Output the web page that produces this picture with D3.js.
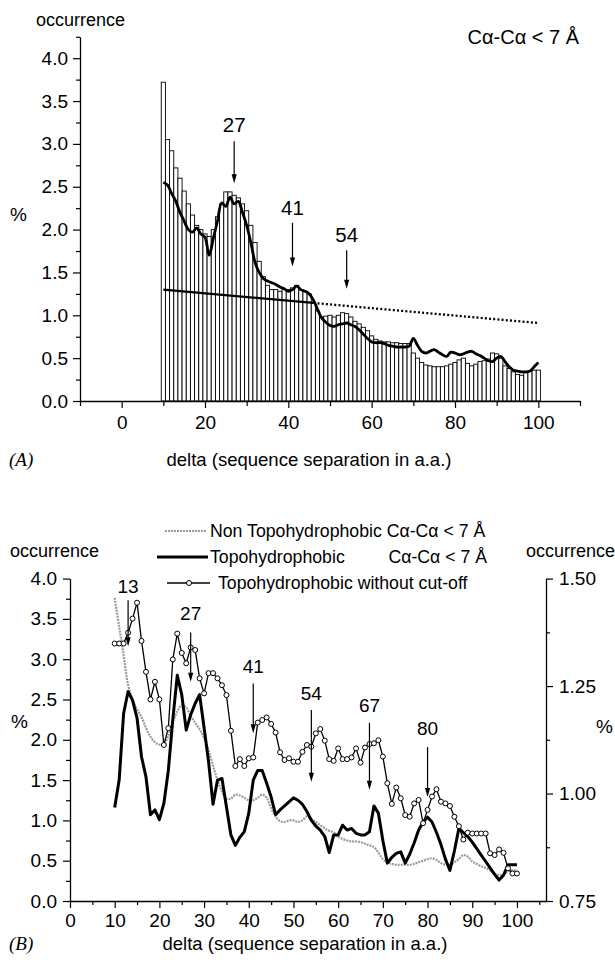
<!DOCTYPE html>
<html><head><meta charset="utf-8">
<script src="https://cdn.jsdelivr.net/npm/d3@7"></script>
<style>
body{margin:0;background:#fff;}
svg{display:block;font-family:"Liberation Sans",Arial,Helvetica,sans-serif;}
</style></head><body>
<svg id="c" width="615" height="966"></svg>
<script>
// ================= DATA =================
// Panel A : occurrence (%) of Calpha-Calpha contacts < 7 A vs sequence separation
const aDelta = d3.range(10, 101);
const aBars = [3.72,3.05,2.92,2.72,2.60,2.45,2.30,2.17,2.05,2.00,
  1.95,1.92,2.00,2.15,2.30,2.44,2.44,2.40,2.37,2.30,
  2.22,2.05,1.85,1.63,1.45,1.35,1.30,1.30,1.28,1.30,
  1.30,1.32,1.35,1.30,1.28,1.25,1.15,1.05,0.98,0.99,
  1.00,0.98,1.00,1.03,1.02,0.98,0.93,0.90,0.86,0.82,
  0.76,0.72,0.70,0.69,0.69,0.68,0.68,0.67,0.67,0.67,
  0.56,0.50,0.45,0.42,0.41,0.40,0.40,0.40,0.41,0.43,
  0.45,0.48,0.50,0.44,0.41,0.43,0.46,0.47,0.49,0.56,
  0.55,0.50,0.41,0.38,0.34,0.31,0.30,0.33,0.35,0.36,0.36];
const aSmooth = [2.55,2.52,2.42,2.33,2.20,2.10,2.00,1.97,2.02,1.95,
  1.91,1.70,1.90,2.10,2.31,2.27,2.38,2.30,2.33,2.20,
  2.05,1.85,1.62,1.50,1.43,1.40,1.38,1.36,1.33,1.31,
  1.28,1.30,1.34,1.30,1.28,1.25,1.18,1.07,0.97,0.92,
  0.88,0.87,0.89,0.90,0.91,0.89,0.87,0.83,0.78,0.73,
  0.69,0.68,0.68,0.67,0.65,0.64,0.63,0.63,0.63,0.64,
  0.73,0.65,0.58,0.56,0.58,0.60,0.57,0.54,0.52,0.57,
  0.56,0.54,0.55,0.57,0.58,0.55,0.53,0.50,0.47,0.46,
  0.50,0.52,0.46,0.40,0.36,0.35,0.34,0.34,0.35,0.40,0.45];
const aTrendX = [10, 46, 100];          // fit line: solid up to 46, dotted after
const aTrendY = [1.30, 1.144, 0.91];
const aPeakX = [27, 41, 54];
const aArrowTop = [3.03, 2.08, 1.76];
const aArrowBot = [2.54, 1.57, 1.31];
const aLabelY = [3.14, 2.17, 1.86];
const aXTicks = [0, 20, 40, 60, 80, 100];
const aXMinor = [-10, 10, 30, 50, 70, 90, 110];
const aYTicks = [0, 0.5, 1, 1.5, 2, 2.5, 3, 3.5, 4];
const aYMinor = [0.25, 0.75, 1.25, 1.75, 2.25, 2.75, 3.25, 3.75, 4.25];

// Panel B
const bDelta = d3.range(10, 101);
const bNonTopo = [3.76,3.40,3.05,2.68,2.50,2.38,2.28,2.15,2.04,1.97,
  1.94,1.95,2.05,2.22,2.35,2.43,2.40,2.30,2.21,2.13,
  2.02,1.87,1.68,1.50,1.36,1.27,1.27,1.32,1.31,1.28,
  1.25,1.25,1.28,1.32,1.28,1.15,1.05,0.99,0.98,1.00,
  1.00,0.98,1.00,1.05,1.02,0.98,0.94,0.90,0.87,0.85,
  0.80,0.77,0.75,0.74,0.74,0.73,0.71,0.69,0.67,0.60,
  0.52,0.48,0.46,0.45,0.45,0.45,0.45,0.46,0.48,0.50,
  0.52,0.53,0.51,0.47,0.45,0.45,0.48,0.52,0.57,0.55,
  0.49,0.46,0.43,0.41,0.38,0.34,0.32,0.33,0.37,0.38,0.38];
const bTopo = [1.16,1.50,2.33,2.60,2.49,2.27,1.79,1.54,1.07,1.13,
  1.01,1.21,1.62,2.25,2.80,2.56,2.12,2.31,2.45,2.56,
  2.15,1.73,1.20,1.50,1.52,1.17,0.82,0.69,0.79,0.86,
  1.09,1.50,1.62,1.62,1.46,1.29,1.07,1.13,1.18,1.23,
  1.28,1.25,1.20,1.11,1.00,0.93,0.88,0.80,0.60,0.82,
  0.82,0.94,0.88,0.90,0.84,0.82,0.82,0.86,1.18,1.09,
  0.75,0.47,0.54,0.59,0.61,0.47,0.58,0.72,0.88,0.98,
  1.04,0.98,0.85,0.70,0.52,0.38,0.62,0.90,0.85,0.80,
  0.73,0.65,0.57,0.49,0.41,0.33,0.26,0.32,0.45,0.45,0.45];
// right axis (%) : topohydrophobic without cut-off
const bNoCut = [1.349,1.349,1.349,1.374,1.407,1.444,1.355,1.283,1.219,1.260,
  1.219,1.113,1.152,1.312,1.372,1.327,1.303,1.340,1.334,1.268,
  1.233,1.280,1.280,1.268,1.252,1.229,1.146,1.064,1.080,1.064,
  1.082,1.084,1.165,1.171,1.177,1.162,1.142,1.096,1.078,1.082,
  1.074,1.074,1.097,1.113,1.109,1.140,1.150,1.123,1.080,1.076,
  1.105,1.080,1.080,1.084,1.105,1.072,1.107,1.115,1.117,1.124,
  1.086,1.024,0.976,1.014,0.989,0.950,0.946,0.977,0.985,0.931,
  0.962,0.993,1.010,0.981,0.977,0.971,0.946,0.924,0.893,0.909,
  0.907,0.907,0.907,0.907,0.861,0.857,0.870,0.862,0.826,0.814,0.814];
const bPeakX = [13, 27, 41, 54, 67, 80];
const bArrowTop = [3.73, 3.33, 2.70, 2.37, 2.21, 1.91];
const bArrowBot = [3.16, 2.72, 2.08, 1.48, 1.38, 1.29];
const bLabelY = [3.82, 3.49, 2.83, 2.49, 2.34, 2.06];
const bXTicks = [0,10,20,30,40,50,60,70,80,90,100];
const bXMinor = [5,15,25,35,45,55,65,75,85,95,105];
const bYTicks = [0,0.5,1,1.5,2,2.5,3,3.5,4];
const bYMinor = [0.25,0.75,1.25,1.75,2.25,2.75,3.25,3.75];
const bRTicks = [0.75,1.00,1.25,1.50];
const bRMinor = [0.875,1.125,1.375];
const legendLabels = ["Non Topohydrophobic C\u03b1-C\u03b1 < 7 \u00c5",
                      "Topohydrophobic", "Topohydrophobic without cut-off"];
const legendExtra = "C\u03b1-C\u03b1 < 7 \u00c5";

// ================= DRAW =================
const svg = d3.select("#c");
const tickFont = 19;

function styleAxis(g){
  g.selectAll("path.domain").attr("stroke","#000").attr("stroke-width",1.3);
  g.selectAll(".tick line").attr("stroke","#000").attr("stroke-width",1.2);
  g.selectAll("text").attr("fill","#000").attr("font-size",tickFont)
    .attr("font-family","Liberation Sans, Arial, sans-serif");
}
function arrow(g, x, y1, y2){
  g.append("line").attr("x1",x).attr("x2",x).attr("y1",y1).attr("y2",y2-7)
    .attr("stroke","#000").attr("stroke-width",1.2);
  g.append("path").attr("d",`M${x-2.6},${y2-9}L${x+2.6},${y2-9}L${x},${y2}Z`).attr("fill","#000");
}

// ---------- Panel A ----------
const xA = d3.scaleLinear().domain([-10,110]).range([80,580]);
const yA = d3.scaleLinear().domain([0,4.25]).range([401, 401-4.25*85.7]);
const gA = svg.append("g");
const bw = xA(1)-xA(0);

gA.append("g").selectAll("rect").data(aBars).join("rect")
  .attr("x",(d,i)=>xA(aDelta[i]-0.5)).attr("width",bw)
  .attr("y",d=>yA(d)).attr("height",d=>yA(0)-yA(d))
  .attr("fill","#fff").attr("stroke","#000").attr("stroke-width",0.9);

// fit line
gA.append("line").attr("x1",xA(aTrendX[0])).attr("y1",yA(aTrendY[0]))
  .attr("x2",xA(aTrendX[1])).attr("y2",yA(aTrendY[1]))
  .attr("stroke","#000").attr("stroke-width",2.3);
gA.append("line").attr("x1",xA(aTrendX[1])).attr("y1",yA(aTrendY[1]))
  .attr("x2",xA(aTrendX[2])).attr("y2",yA(aTrendY[2]))
  .attr("stroke","#000").attr("stroke-width",2.3).attr("stroke-dasharray","2,2.2");

gA.append("path").datum(aSmooth)
  .attr("d", d3.line().x((d,i)=>xA(aDelta[i])).y(d=>yA(d)).curve(d3.curveCatmullRom))
  .attr("fill","none").attr("stroke","#000").attr("stroke-width",2.8).attr("stroke-linejoin","round");

// axes A
const axAx = gA.append("g").attr("transform",`translate(0,${yA(0)})`)
  .call(d3.axisBottom(xA).tickValues(aXTicks).tickSize(7).tickSizeOuter(0).tickPadding(8).tickFormat(d3.format("d")));
styleAxis(axAx);
const axAxm = gA.append("g").attr("transform",`translate(0,${yA(0)})`)
  .call(d3.axisBottom(xA).tickValues(aXMinor).tickSize(5).tickFormat(""));
axAxm.select("path.domain").remove(); styleAxis(axAxm);
const axAy = gA.append("g").attr("transform",`translate(${xA(-10)},0)`)
  .call(d3.axisLeft(yA).tickValues(aYTicks).tickSize(7).tickSizeOuter(0).tickPadding(5).tickFormat(d3.format(".1f")));
styleAxis(axAy);
const axAym = gA.append("g").attr("transform",`translate(${xA(-10)},0)`)
  .call(d3.axisLeft(yA).tickValues(aYMinor).tickSize(4).tickFormat(""));
axAym.select("path.domain").remove(); styleAxis(axAym);

// peak arrows A
aPeakX.forEach((p,i)=>{
  arrow(gA, xA(p), yA(aArrowTop[i]), yA(aArrowBot[i]));
  gA.append("text").attr("x",xA(p)).attr("y",yA(aLabelY[i])).attr("text-anchor","middle")
    .attr("font-size",20.5).text(p);
});

gA.append("text").attr("x",36).attr("y",26).attr("font-size",18).text("occurrence");
gA.append("text").attr("x",10).attr("y",221).attr("font-size",19).text("%");
gA.append("text").attr("x",579).attr("y",44).attr("text-anchor","end").attr("font-size",20).text(legendExtra);
gA.append("text").attr("x",309).attr("y",466).attr("text-anchor","middle")
  .attr("font-size",18.5).text("delta (sequence separation in a.a.)");
gA.append("text").attr("x",9).attr("y",466).attr("font-size",19)
  .attr("font-family","Liberation Serif, Times New Roman, serif").attr("font-style","italic").text("(A)");

// ---------- Panel B ----------
const xB = d3.scaleLinear().domain([0,106.5]).range([70,546]);
const yB = d3.scaleLinear().domain([0,4]).range([901, 901-4*80.6]);
const yR = d3.scaleLinear().domain([0.75,1.5]).range([901, 901-4*80.6]);
const gB = svg.append("g");

// axes B
const axBx = gB.append("g").attr("transform",`translate(0,${yB(0)})`)
  .call(d3.axisBottom(xB).tickValues(bXTicks).tickSize(7).tickSizeOuter(0).tickPadding(5.5).tickFormat(d3.format("d")));
styleAxis(axBx);
const axBxm = gB.append("g").attr("transform",`translate(0,${yB(0)})`)
  .call(d3.axisBottom(xB).tickValues(bXMinor).tickSize(4).tickFormat(""));
axBxm.select("path.domain").remove(); styleAxis(axBxm);
const axBy = gB.append("g").attr("transform",`translate(${xB(0)},0)`)
  .call(d3.axisLeft(yB).tickValues(bYTicks).tickSize(7).tickSizeOuter(0).tickPadding(6).tickFormat(d3.format(".1f")));
styleAxis(axBy);
const axBym = gB.append("g").attr("transform",`translate(${xB(0)},0)`)
  .call(d3.axisLeft(yB).tickValues(bYMinor).tickSize(4).tickFormat(""));
axBym.select("path.domain").remove(); styleAxis(axBym);
const axBr = gB.append("g").attr("transform",`translate(${xB(106.5)},0)`)
  .call(d3.axisRight(yR).tickValues(bRTicks).tickSize(7).tickSizeOuter(0).tickPadding(6).tickFormat(d3.format(".2f")));
styleAxis(axBr);
const axBrm = gB.append("g").attr("transform",`translate(${xB(106.5)},0)`)
  .call(d3.axisRight(yR).tickValues(bRMinor).tickSize(4).tickFormat(""));
axBrm.select("path.domain").remove(); styleAxis(axBrm);

// series
gB.append("path").datum(bNonTopo)
  .attr("d", d3.line().x((d,i)=>xB(bDelta[i])).y(d=>yB(d)).curve(d3.curveCatmullRom))
  .attr("fill","none").attr("stroke","#9a9a9a").attr("stroke-width",2.2).attr("stroke-dasharray","2,1");
gB.append("path").datum(bTopo)
  .attr("d", d3.line().x((d,i)=>xB(bDelta[i])).y(d=>yB(d)))
  .attr("fill","none").attr("stroke","#000").attr("stroke-width",3).attr("stroke-linejoin","round");
gB.append("path").datum(bNoCut)
  .attr("d", d3.line().x((d,i)=>xB(bDelta[i])).y(d=>yR(d)))
  .attr("fill","none").attr("stroke","#000").attr("stroke-width",1.3);
gB.append("g").selectAll("circle").data(bNoCut).join("circle")
  .attr("cx",(d,i)=>xB(bDelta[i])).attr("cy",d=>yR(d)).attr("r",2.5)
  .attr("fill","#fff").attr("stroke","#000").attr("stroke-width",1);

bPeakX.forEach((p,i)=>{
  arrow(gB, xB(p), yB(bArrowTop[i]), yB(bArrowBot[i]));
  gB.append("text").attr("x",xB(p)).attr("y",yB(bLabelY[i])).attr("text-anchor","middle")
    .attr("font-size",19).text(p);
});

// legend
const lg = gB.append("g");
lg.append("line").attr("x1",165).attr("x2",206).attr("y1",531).attr("y2",531)
  .attr("stroke","#9a9a9a").attr("stroke-width",2.2).attr("stroke-dasharray","2,1");
lg.append("line").attr("x1",157).attr("x2",208).attr("y1",557).attr("y2",557)
  .attr("stroke","#000").attr("stroke-width",3);
lg.append("line").attr("x1",167).attr("x2",210).attr("y1",583).attr("y2",583)
  .attr("stroke","#000").attr("stroke-width",1.3);
lg.append("circle").attr("cx",189).attr("cy",583).attr("r",2.5).attr("fill","#fff").attr("stroke","#000");
lg.append("text").attr("x",210).attr("y",537).attr("font-size",17.7).text(legendLabels[0]);
lg.append("text").attr("x",210).attr("y",563).attr("font-size",17.7).text(legendLabels[1]);
lg.append("text").attr("x",487).attr("y",563).attr("text-anchor","end").attr("font-size",17.7).text(legendExtra);
lg.append("text").attr("x",218).attr("y",589).attr("font-size",17.7).text(legendLabels[2]);

gB.append("text").attr("x",10).attr("y",557).attr("font-size",18).text("occurrence");
gB.append("text").attr("x",615).attr("y",557).attr("text-anchor","end").attr("font-size",18).text("occurrence");
gB.append("text").attr("x",11).attr("y",728).attr("font-size",19).text("%");
gB.append("text").attr("x",596).attr("y",733).attr("font-size",19).text("%");
gB.append("text").attr("x",305).attr("y",950).attr("text-anchor","middle")
  .attr("font-size",18.5).text("delta (sequence separation in a.a.)");
gB.append("text").attr("x",9).attr("y",950).attr("font-size",19)
  .attr("font-family","Liberation Serif, Times New Roman, serif").attr("font-style","italic").text("(B)");
</script>
</body></html>
